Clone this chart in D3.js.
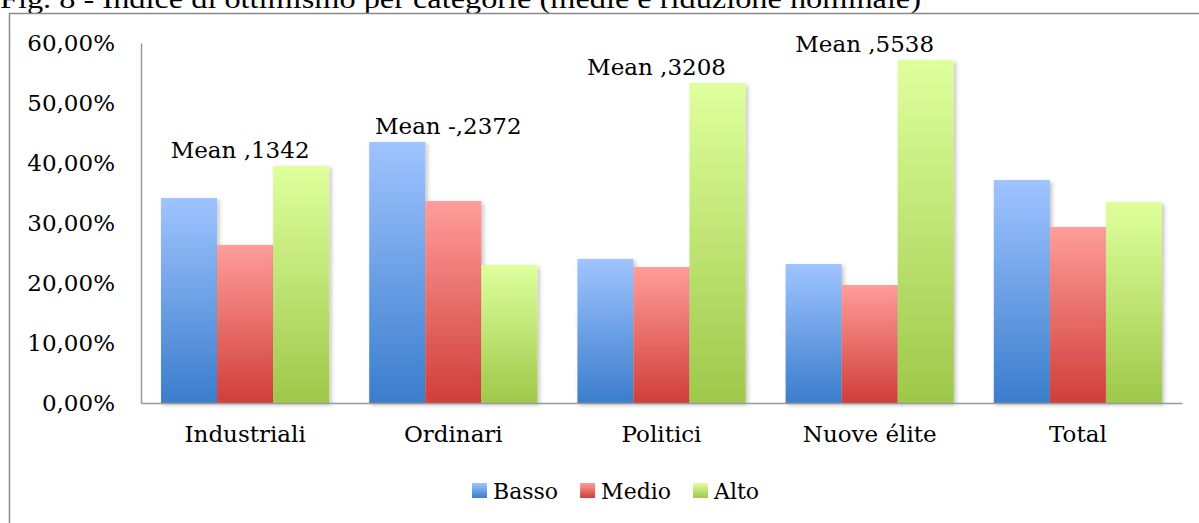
<!DOCTYPE html>
<html>
<head>
<meta charset="utf-8">
<script src="https://cdn.jsdelivr.net/npm/d3@7"></script>
<style>
  html, body { margin: 0; padding: 0; background: #fff; overflow: hidden; }
  svg { display: block; }
</style>
</head>
<body>
<svg id="chart" width="1199" height="523"></svg>
<script>
const categories = ["Industriali", "Ordinari", "Politici", "Nuove élite", "Total"];
const seriesNames = ["Basso", "Medio", "Alto"];
const basso = [0.3417, 0.4350, 0.2400, 0.2317, 0.3717];
const medio = [0.2633, 0.3367, 0.2267, 0.1967, 0.2933];
const alto  = [0.3950, 0.2300, 0.5333, 0.5717, 0.3350];
const meanLabels = ["Mean ,1342", "Mean -,2372", "Mean ,3208", "Mean ,5538", null];
const yTicks = [0, 0.1, 0.2, 0.3, 0.4, 0.5, 0.6];
const titleText = "Fig. 8 - Indice di ottimismo per categorie (medie e riduzione nominale)";

const seriesValues = [basso, medio, alto];
const gradStops = [
  ["#9fc4ff", "#3b7dcc"],
  ["#ff9d9a", "#d03e3a"],
  ["#dfff9d", "#9ec84a"]
];

const svg = d3.select("#chart");
const W = 1199, H = 523;
const margin = { left: 141, right: 17, top: 43, bottom: 120 };
const plotW = W - margin.left - margin.right;
const plotH = H - margin.top - margin.bottom;
const FONT = "DejaVu Serif, serif";

const defs = svg.append("defs");
gradStops.forEach((s, i) => {
  const g = defs.append("linearGradient").attr("id", "g" + i)
    .attr("x1", 0).attr("y1", 0).attr("x2", 0).attr("y2", 1);
  g.append("stop").attr("offset", "0%").attr("stop-color", s[0]);
  g.append("stop").attr("offset", "100%").attr("stop-color", s[1]);
});
const f = defs.append("filter").attr("id", "shadow")
  .attr("x", "-20%").attr("y", "-10%").attr("width", "150%").attr("height", "130%");
f.append("feDropShadow").attr("dx", 2).attr("dy", 2).attr("stdDeviation", 2)
  .attr("flood-color", "#000").attr("flood-opacity", 0.25);

// Title (partly cut at the top edge, as in the reference)
svg.append("text")
  .attr("x", 0).attr("y", 8)
  .attr("font-family", "Liberation Serif, serif")
  .attr("font-size", 28)
  .attr("textLength", 921).attr("lengthAdjust", "spacingAndGlyphs")
  .attr("fill", "#000")
  .text(titleText);

// Border
svg.append("rect")
  .attr("x", 9.5).attr("y", 13.5).attr("width", W + 20).attr("height", H + 20)
  .attr("fill", "none").attr("stroke", "#8a8a8a").attr("stroke-width", 1.5);

const g = svg.append("g").attr("transform", `translate(${margin.left},${margin.top})`);

const x0 = d3.scaleBand().domain(categories).range([0, plotW]).paddingInner(0.1923).paddingOuter(0.0962);
const x1 = d3.scaleBand().domain(seriesNames).range([0, x0.bandwidth()]).padding(0);
const y = d3.scaleLinear().domain([0, 0.6]).range([plotH, 0]);

const fmt = v => d3.format(".2f")(v * 100).replace(".", ",") + "%";

// Y axis
const yAxis = d3.axisLeft(y).tickValues(yTicks).tickFormat(fmt).tickSize(0).tickPadding(26);
const ya = g.append("g").call(yAxis);
ya.select(".domain").attr("stroke", "#9a9a9a").attr("stroke-width", 1.5);
ya.selectAll("text").attr("font-family", FONT).attr("font-size", 23).attr("fill", "#000");

// Bars
const groups = g.selectAll("g.cat").data(categories).enter().append("g")
  .attr("class", "cat")
  .attr("transform", d => `translate(${x0(d)},0)`);

groups.selectAll("rect").data((d, i) => seriesNames.map((s, j) => ({ s, j, v: seriesValues[j][i] })))
  .enter().append("rect")
  .attr("x", d => x1(d.s))
  .attr("y", d => y(d.v))
  .attr("width", x1.bandwidth())
  .attr("height", d => plotH - y(d.v))
  .attr("fill", d => `url(#g${d.j})`)
  .attr("filter", "url(#shadow)");

// X axis
const xAxis = d3.axisBottom(x0).tickSize(0).tickPadding(23);
const xa = g.append("g").attr("transform", `translate(0,${plotH})`).call(xAxis);
xa.select(".domain").attr("stroke", "#9a9a9a").attr("stroke-width", 1.5);
xa.selectAll("text").attr("font-family", FONT).attr("font-size", 23).attr("fill", "#000");

// Mean labels
categories.forEach((c, i) => {
  if (!meanLabels[i]) return;
  const maxV = Math.max(basso[i], medio[i], alto[i]);
  g.append("text")
    .attr("x", x0(c) + x0.bandwidth() / 2 - 5)
    .attr("y", y(maxV) - 16)
    .attr("dy", "0.35em")
    .attr("text-anchor", "middle")
    .attr("font-family", FONT)
    .attr("font-size", 23)
    .attr("fill", "#000")
    .text(meanLabels[i]);
});

// Legend
const legend = svg.append("g").attr("transform", "translate(472,491)");
let lx = 0;
seriesNames.forEach((s, i) => {
  const item = legend.append("g").attr("transform", `translate(${lx},0)`);
  item.append("rect").attr("x", 0).attr("y", -8).attr("width", 15).attr("height", 15)
    .attr("fill", `url(#g${i})`);
  const t = item.append("text").attr("x", 21).attr("y", 0).attr("dy", "0.35em")
    .attr("font-family", FONT).attr("font-size", 22).attr("fill", "#000")
    .text(s);
  lx += 21 + t.node().getComputedTextLength() + 22;
});
</script>
</body>
</html>
